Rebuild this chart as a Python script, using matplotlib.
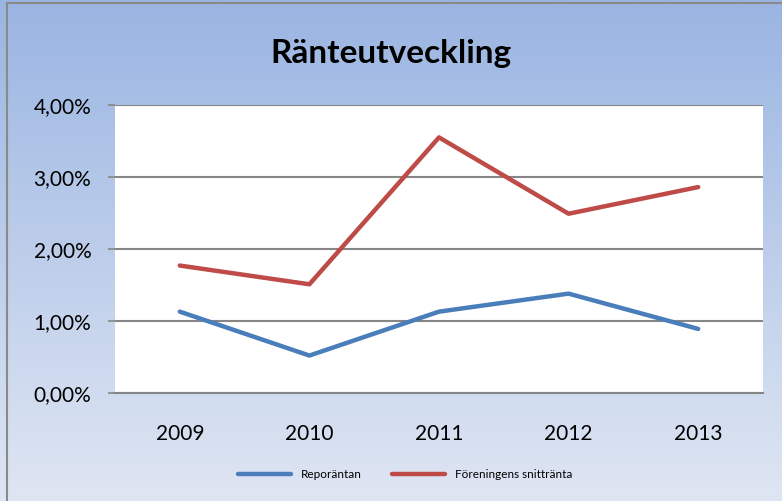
import numpy as np
import matplotlib.pyplot as plt
from matplotlib.patches import Rectangle
from matplotlib.ticker import FuncFormatter

years = ["2009", "2010", "2011", "2012", "2013"]
repo = [1.13, 0.52, 1.13, 1.38, 0.89]
forening = [1.77, 1.51, 3.55, 2.49, 2.86]

plt.rcParams['font.family'] = ['Lato', 'DejaVu Sans']

fig = plt.figure(figsize=(7.82, 5.01), dpi=100)

# gradient background
bg = fig.add_axes([0, 0, 1, 1], zorder=-10)
grad = np.linspace(0, 1, 256).reshape(-1, 1)
top = np.array([0x9a, 0xb5, 0xe2]) / 255
bot = np.array([0xdf, 0xe6, 0xf3]) / 255
img = top + (bot - top) * grad[:, :, None]
bg.imshow(img, aspect='auto', extent=[0, 1, 0, 1])
bg.set_xlim(0, 1)
bg.set_ylim(0, 1)
bg.axis('off')
# border lines
bg.add_patch(Rectangle((0.009, -0.01), 1.0, 1.005, fill=False, edgecolor='#8a8a8a', lw=1.5))

ax = fig.add_axes([115 / 782, (501 - 393) / 501, 648 / 782, 288 / 501])
x = np.arange(len(years))
ax.plot(x, repo, color='#4a7ebb', lw=3.2, solid_capstyle='round', label='Reporäntan')
ax.plot(x, forening, color='#be4b48', lw=3.2, solid_capstyle='round', label='Föreningens snittränta')

ax.set_xlim(-0.5, 4.5)
ax.set_ylim(0, 4)
ax.set_yticks([0, 1, 2, 3, 4])
ax.yaxis.set_major_formatter(FuncFormatter(lambda v, p: f"{v:.2f}".replace('.', ',') + '%'))
ax.set_xticks(x)
ax.set_xticklabels(years)
ax.grid(axis='y', color='#868686', lw=1.5)
ax.set_axisbelow(True)
for s in ['top', 'right', 'left']:
    ax.spines[s].set_visible(False)
ax.spines['bottom'].set_color('#868686')
ax.spines['bottom'].set_linewidth(1.5)
ax.tick_params(axis='y', length=5, width=1.2, color='#868686', labelsize=15, pad=12)
ax.tick_params(axis='x', length=0, labelsize=15, pad=22)
ax.set_facecolor('white')

fig.text(0.5, 0.893, "Ränteutveckling", ha='center', va='center', fontsize=24, fontweight='bold')

fig.legend(loc='center', bbox_to_anchor=(0.518, 0.053), ncol=2, frameon=False, fontsize=8.5,
           handlelength=4.5, columnspacing=2.6)

fig.savefig("out.png", dpi=100)
